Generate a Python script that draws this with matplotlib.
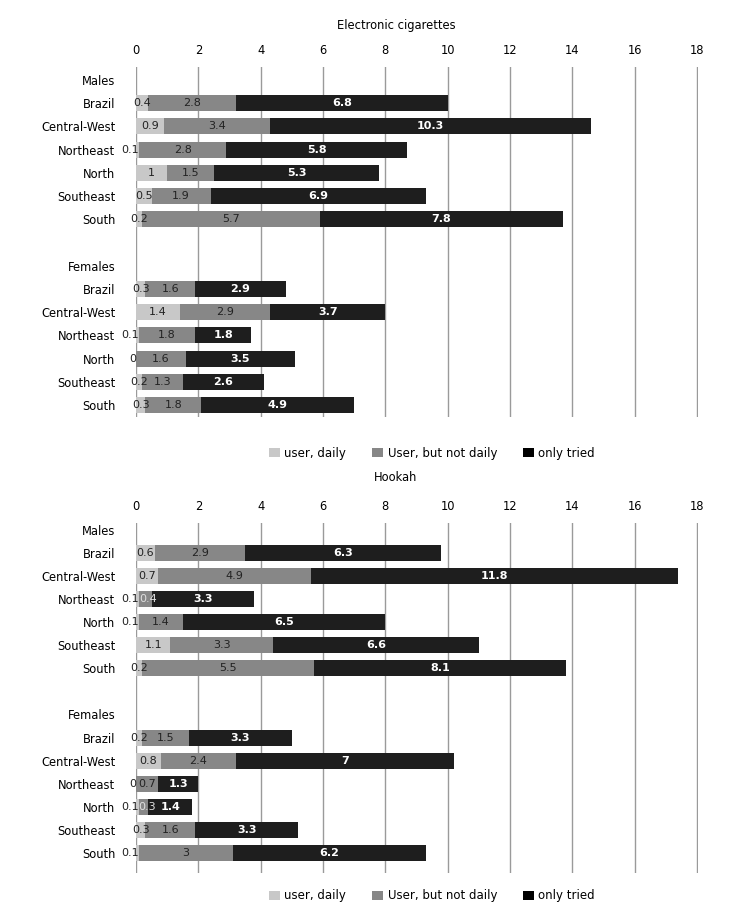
import matplotlib
matplotlib.use('Agg')
import matplotlib.pyplot as plt
from matplotlib.patches import Patch

plt.rcParams['font.family'] = ['DejaVu Sans']

regions = ['Brazil', 'Central-West', 'Northeast', 'North', 'Southeast', 'South']
series_names = ['user, daily', 'User, but not daily', 'only tried']
xticks = [0, 2, 4, 6, 8, 10, 12, 14, 16, 18]

# Electronic cigarettes
ecig_m_daily = [0.4, 0.9, 0.1, 1, 0.5, 0.2]
ecig_m_notdaily = [2.8, 3.4, 2.8, 1.5, 1.9, 5.7]
ecig_m_tried = [6.8, 10.3, 5.8, 5.3, 6.9, 7.8]
ecig_f_daily = [0.3, 1.4, 0.1, 0, 0.2, 0.3]
ecig_f_notdaily = [1.6, 2.9, 1.8, 1.6, 1.3, 1.8]
ecig_f_tried = [2.9, 3.7, 1.8, 3.5, 2.6, 4.9]

# Hookah
hook_m_daily = [0.6, 0.7, 0.1, 0.1, 1.1, 0.2]
hook_m_notdaily = [2.9, 4.9, 0.4, 1.4, 3.3, 5.5]
hook_m_tried = [6.3, 11.8, 3.3, 6.5, 6.6, 8.1]
hook_f_daily = [0.2, 0.8, 0, 0.1, 0.3, 0.1]
hook_f_notdaily = [1.5, 2.4, 0.7, 0.3, 1.6, 3]
hook_f_tried = [3.3, 7, 1.3, 1.4, 3.3, 6.2]

colors = ['#c8c8c8', '#878787', '#1e1e1e']
legend_colors = ['#c8c8c8', '#878787', '#000000']
label_colors = ['#222222', '#222222', 'white']
label_weights = ['normal', 'normal', 'bold']

W, H = 731, 924
fig = plt.figure(figsize=(W / 100, H / 100), dpi=100)


def draw(ax, males, females, ylim):
    ylabels = ['Males'] + regions + [''] + ['Females'] + regions
    ypos = list(range(len(ylabels)))
    m_pos = ypos[1:7]
    f_pos = ypos[9:15]
    for pos, grp in ((m_pos, males), (f_pos, females)):
        left = [0.0] * len(pos)
        for k, vals in enumerate(grp):
            bars = ax.barh(pos, vals, left=left, height=0.69, color=colors[k],
                           zorder=3, edgecolor='none')
            for b, v in zip(bars, vals):
                cx = b.get_x() + b.get_width() / 2
                cy = b.get_y() + b.get_height() / 2
                col = label_colors[k]
                if k == 0 and v < 0.15:
                    # tiny first segments: label nudged left like the reference
                    cx = -0.2 if v > 0 else -0.12
                elif k == 1 and b.get_width() < 0.5:
                    cx += 0.1
                    col = '#e0e0e0'
                ax.text(cx, cy, f'{v:g}', ha='center', va='center',
                        color=col, fontsize=8,
                        fontweight=label_weights[k], zorder=5, clip_on=False)
            left = [l + v for l, v in zip(left, vals)]
    ax.set_yticks(ypos)
    ax.set_yticklabels(ylabels, fontsize=8.3)
    ax.set_ylim(*ylim)
    ax.set_xlim(0, 18.03)
    ax.set_xticks(xticks)
    ax.xaxis.tick_top()
    ax.tick_params(axis='x', length=0, pad=7, labelsize=8.3)
    ax.tick_params(axis='y', length=0, pad=15)
    ax.grid(axis='x', color='#9a9a9a', linewidth=1, zorder=0)
    for s in ax.spines.values():
        s.set_visible(False)


def add_axes(top_px, bot_px):
    left, right = 136 / W, 698 / W
    return fig.add_axes([left, 1 - bot_px / H, right - left, (bot_px - top_px) / H])


ax1 = add_axes(67, 417)
draw(ax1, [ecig_m_daily, ecig_m_notdaily, ecig_m_tried],
     [ecig_f_daily, ecig_f_notdaily, ecig_f_tried], (14.52, -0.56))
ax2 = add_axes(523, 873)
draw(ax2, [hook_m_daily, hook_m_notdaily, hook_m_tried],
     [hook_f_daily, hook_f_notdaily, hook_f_tried], (14.87, -0.30))

fig.text(396 / W, 1 - 25 / H, 'Electronic cigarettes', ha='center', va='center', fontsize=8.3)
fig.text(396 / W, 1 - 477 / H, 'Hookah', ha='center', va='center', fontsize=8.3)

handles = [Patch(facecolor=c, edgecolor='none') for c in legend_colors]
for ycen in (453, 896):
    fig.legend(handles, series_names, loc='center', bbox_to_anchor=(432 / W, 1 - ycen / H),
               ncol=3, frameon=False, fontsize=8.5, handlelength=0.9, handleheight=0.9,
               handletextpad=0.4, columnspacing=2.2)

fig.savefig('out.png', dpi=100)
